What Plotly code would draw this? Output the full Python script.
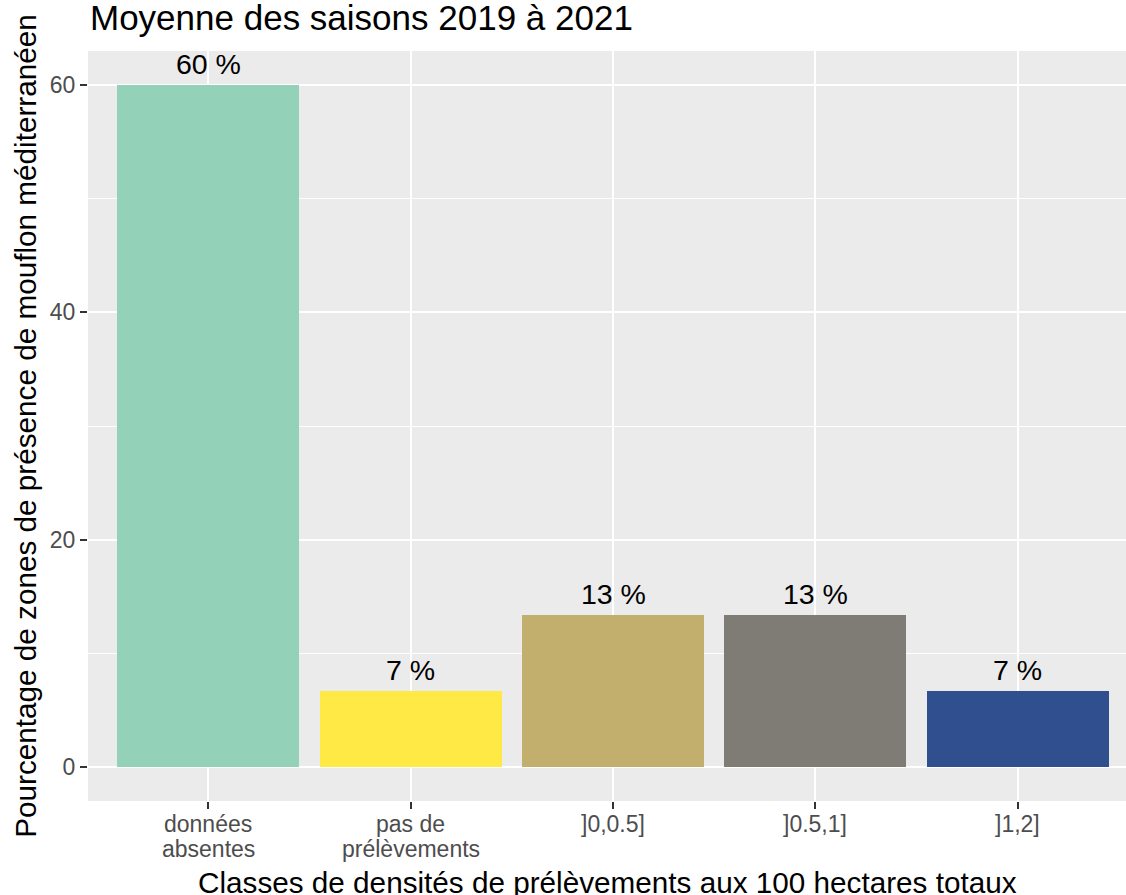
import plotly.graph_objects as go

categories = ["données absentes", "pas de prélèvements", "]0,0.5]", "]0.5,1]", "]1,2]"]
tick_lines = [["données", "absentes"], ["pas de", "prélèvements"], ["]0,0.5]"], ["]0.5,1]"], ["]1,2]"]]
values = [60.0, 6.67, 13.33, 13.33, 6.67]
labels = ["60 %", "7 %", "13 %", "13 %", "7 %"]
colors = ["#93D1B9", "#FFE945", "#C2AE6D", "#7F7C75", "#2F4F8F"]
y_ticks = [0, 20, 40, 60]

FONT = "Liberation Sans, Arial, sans-serif"

fig = go.Figure()
fig.add_trace(go.Bar(
    x=categories, y=values, width=0.9,
    marker=dict(color=colors, line=dict(width=0)),
    showlegend=False, hoverinfo="skip",
))

# value labels above bars
for c, v, t in zip(categories, values, labels):
    fig.add_annotation(x=c, y=v, text=t, showarrow=False, xref="x", yref="y",
                       yanchor="bottom", yshift=3,
                       font=dict(family=FONT, size=28.5, color="#000000"))

# x tick labels (tight line spacing as in the reference)
for c, lines in zip(categories, tick_lines):
    for i, ln in enumerate(lines):
        fig.add_annotation(x=c, y=0, text=ln, showarrow=False, xref="x", yref="paper",
                           yanchor="top", yshift=-8 - 24.5 * i,
                           font=dict(family=FONT, size=23, color="#4D4D4D"))

# x axis title
fig.add_annotation(x=0.5, y=0, xref="paper", yref="paper", xanchor="center",
                   yanchor="top", yshift=-63, showarrow=False,
                   text="Classes de densités de prélèvements aux 100 hectares totaux",
                   font=dict(family=FONT, size=29.7, color="#000000"))

fig.update_layout(
    width=1126, height=895,
    margin=dict(l=88, r=0, t=51, b=94, autoexpand=False),
    paper_bgcolor="#FFFFFF", plot_bgcolor="#EBEBEB",
    bargap=0,
    title=dict(text="Moyenne des saisons 2019 à 2021",
               font=dict(family=FONT, size=35, color="#000000"),
               x=0, xref="paper", xanchor="left",
               y=1 - 5/895, yref="container", yanchor="top", pad=dict(t=0, b=0, l=2)),
    font=dict(family=FONT),
)

fig.update_xaxes(
    type="category", range=[-0.595, 4.535], automargin=False,
    showgrid=True, gridcolor="#FFFFFF", gridwidth=2.4,
    ticks="outside", ticklen=7, tickwidth=2, tickcolor="#333333",
    showticklabels=False,
    showline=False, zeroline=False,
)
fig.update_yaxes(
    range=[-3, 63], tickvals=y_ticks, automargin=False,
    showgrid=True, gridcolor="#FFFFFF", gridwidth=2.4,
    minor=dict(dtick=10, tick0=0, showgrid=True, gridcolor="#FFFFFF", gridwidth=1.2),
    ticks="outside", ticklen=7, tickwidth=2, tickcolor="#333333",
    tickfont=dict(family=FONT, size=23, color="#4D4D4D"),
    showline=False, zeroline=False,
    title=dict(text="Pourcentage de zones de présence de mouflon méditerranéen",
               font=dict(family=FONT, size=29.7, color="#000000"), standoff=4),
)

fig.write_html("out.html",
               config={"displayModeBar": False},
               post_script="document.body.style.margin='0';document.body.style.overflow='hidden';")
